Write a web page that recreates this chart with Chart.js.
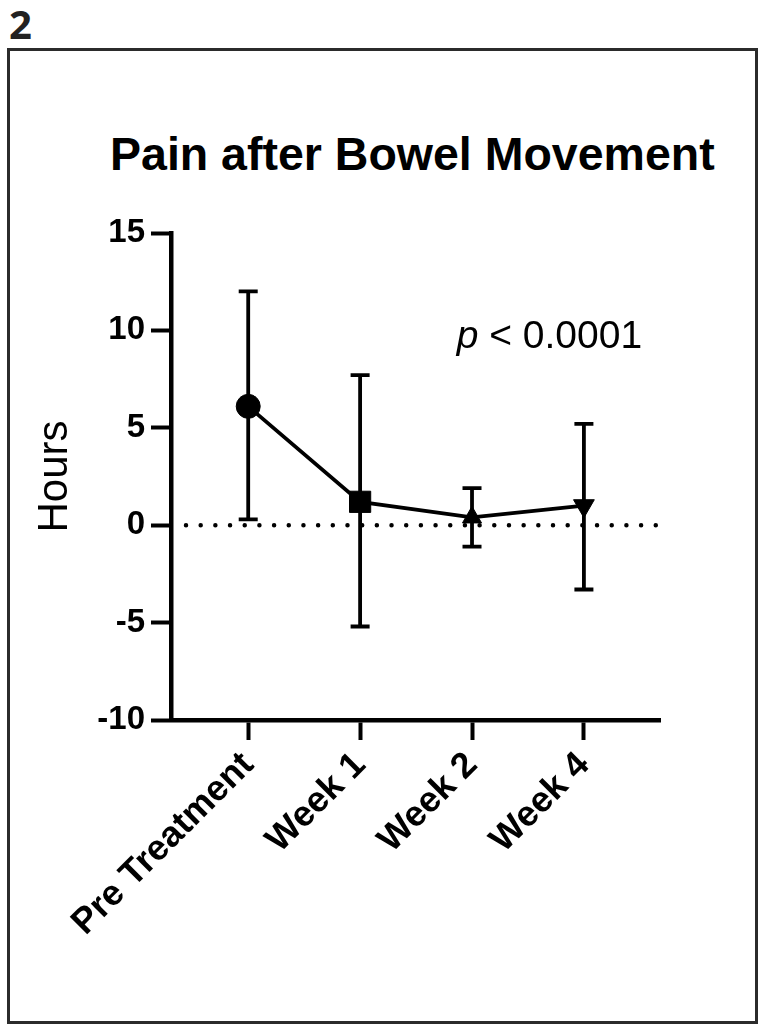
<!DOCTYPE html>
<html>
<head>
<meta charset="utf-8">
<title>Pain after Bowel Movement</title>
<script src="https://cdn.jsdelivr.net/npm/chart.js@4.4.1/dist/chart.umd.min.js"></script>
<style>
    html, body { margin: 0; padding: 0; background: #fff; }
    #page { position: relative; width: 759px; height: 1025px; overflow: hidden; }
    #etiqueta {
        position: absolute; left: 9px; top: -4px;
        font: bold 40px "Open Sans", "Noto Sans", sans-serif; color: #222;
    }
    #marco {
        position: absolute; left: 7px; top: 48px; width: 751px; height: 976px;
        box-sizing: border-box; border: 3px solid #2b2b2b;
    }
    #titulo {
        position: absolute; left: 110px; width: 600px; top: 131px;
        font: bold 46.5px "Liberation Sans", Arial, sans-serif; line-height: 46px;
        text-align: center; color: #000; white-space: nowrap;
    }
    #grafico { position: absolute; left: 0; top: 0; }
</style>
</head>
<body>
<div id="page">
    <div id="etiqueta">2</div>
    <div id="marco"></div>
    <div id="titulo">Pain after Bowel Movement</div>
    <canvas id="grafico" width="759" height="1025"></canvas>
</div>
<script>
// Datos del gráfico
const categorias = ['Pre Treatment', 'Week 1', 'Week 2', 'Week 4'];
const medias = [6.1, 1.2, 0.4, 1.0];
const limiteSuperior = [12.0, 7.7, 1.9, 5.2];
const limiteInferior = [0.3, -5.2, -1.1, -3.3];
const marcadores = ['circle', 'rect', 'triangle', 'triangle'];
const rotaciones = [0, 0, 0, 180];
const ticksY = [-10, -5, 0, 5, 10, 15];

// Texto de significancia y su posición en unidades de los ejes
const textoP = ' < 0.0001';
const posicionP = { x: 3.52, y: 9.1 };

// Barras de error (media ± DE)
const barrasError = {
    id: 'barrasError',
    beforeDatasetsDraw(chart) {
        const { ctx, scales: { x, y } } = chart;
        ctx.save();
        ctx.strokeStyle = '#000';
        ctx.lineWidth = 3.8;
        ctx.lineCap = 'butt';
        categorias.forEach((c, i) => {
            const px = x.getPixelForValue(i);
            const arriba = y.getPixelForValue(limiteSuperior[i]);
            const abajo = y.getPixelForValue(limiteInferior[i]);
            ctx.beginPath();
            ctx.moveTo(px, arriba); ctx.lineTo(px, abajo);
            ctx.moveTo(px - 9.5, arriba); ctx.lineTo(px + 9.5, arriba);
            ctx.moveTo(px - 9.5, abajo); ctx.lineTo(px + 9.5, abajo);
            ctx.stroke();
        });
        ctx.restore();
    }
};

// Línea punteada en y = 0
const lineaCero = {
    id: 'lineaCero',
    beforeDatasetsDraw(chart) {
        const { ctx, chartArea, scales: { y } } = chart;
        const py = y.getPixelForValue(0);
        ctx.save();
        ctx.strokeStyle = '#000';
        ctx.lineWidth = 4.5;
        ctx.lineCap = 'round';
        ctx.setLineDash([0.01, 14.67]);
        ctx.beginPath();
        ctx.moveTo(chartArea.left + 15, py);
        ctx.lineTo(chartArea.right, py);
        ctx.stroke();
        ctx.restore();
    }
};

// Texto "p < 0.0001"
const textoSignificancia = {
    id: 'textoSignificancia',
    afterDraw(chart) {
        const { ctx, scales: { x, y } } = chart;
        const px = x.getPixelForValue(posicionP.x);
        const py = y.getPixelForValue(posicionP.y);
        ctx.save();
        ctx.fillStyle = '#000';
        ctx.textBaseline = 'alphabetic';
        ctx.font = '39px "Liberation Sans", Arial, sans-serif';
        const anchoResto = ctx.measureText(textoP).width;
        ctx.font = 'italic 39px "Liberation Sans", Arial, sans-serif';
        const anchoP = ctx.measureText('p').width;
        const inicio = px - anchoResto - anchoP;
        ctx.fillText('p', inicio, py);
        ctx.font = '39px "Liberation Sans", Arial, sans-serif';
        ctx.fillText(textoP, inicio + anchoP, py);
        ctx.restore();
    }
};

const ctx = document.getElementById('grafico').getContext('2d');
new Chart(ctx, {
    type: 'line',
    data: {
        datasets: [{
            data: medias.map((m, i) => ({ x: i, y: m })),
            borderColor: '#000',
            borderWidth: 3.8,
            backgroundColor: '#000',
            pointBackgroundColor: '#000',
            pointBorderColor: '#000',
            pointBorderWidth: 1,
            pointStyle: marcadores,
            pointRotation: rotaciones,
            pointRadius: [12, 15, 11, 12],
            tension: 0
        }]
    },
    options: {
        responsive: false,
        animation: false,
        events: [],
        layout: { padding: { left: 0, top: 233, right: 99, bottom: 25 } },
        plugins: {
            legend: { display: false },
            tooltip: { enabled: false },
            title: { display: false }
        },
        scales: {
            x: {
                type: 'linear',
                min: -0.69,
                max: 3.68,
                afterBuildTicks: (scale) => {
                    scale.ticks = categorias.map((c, i) => ({ value: i }));
                },
                afterFit: (scale) => { scale.height = 280; },
                ticks: {
                    autoSkip: false,
                    minRotation: 45,
                    maxRotation: 45,
                    padding: 4,
                    color: '#000',
                    font: { family: '"Liberation Sans", Arial, sans-serif', size: 36, weight: 'bold' },
                    callback: (v) => categorias[v]
                },
                grid: {
                    drawOnChartArea: false,
                    drawTicks: true,
                    tickLength: 20,
                    tickWidth: 4,
                    tickColor: '#000'
                },
                border: { display: true, width: 4.5, color: '#000' }
            },
            y: {
                min: -10,
                max: 15,
                afterBuildTicks: (scale) => {
                    scale.ticks = ticksY.map(v => ({ value: v }));
                },
                afterFit: (scale) => { scale.width = 171; },
                ticks: {
                    padding: 6,
                    color: '#000',
                    font: { family: '"Liberation Sans", Arial, sans-serif', size: 33, weight: 'bold' }
                },
                grid: {
                    drawOnChartArea: false,
                    drawTicks: true,
                    tickLength: 20,
                    tickWidth: 4,
                    tickColor: '#000'
                },
                border: { display: true, width: 4.5, color: '#000' },
                title: {
                    display: true,
                    text: 'Hours',
                    color: '#000',
                    padding: { top: 30, bottom: 0 },
                    font: { family: '"Liberation Sans", Arial, sans-serif', size: 42 }
                }
            }
        }
    },
    plugins: [lineaCero, barrasError, textoSignificancia]
});
</script>
</body>
</html>
